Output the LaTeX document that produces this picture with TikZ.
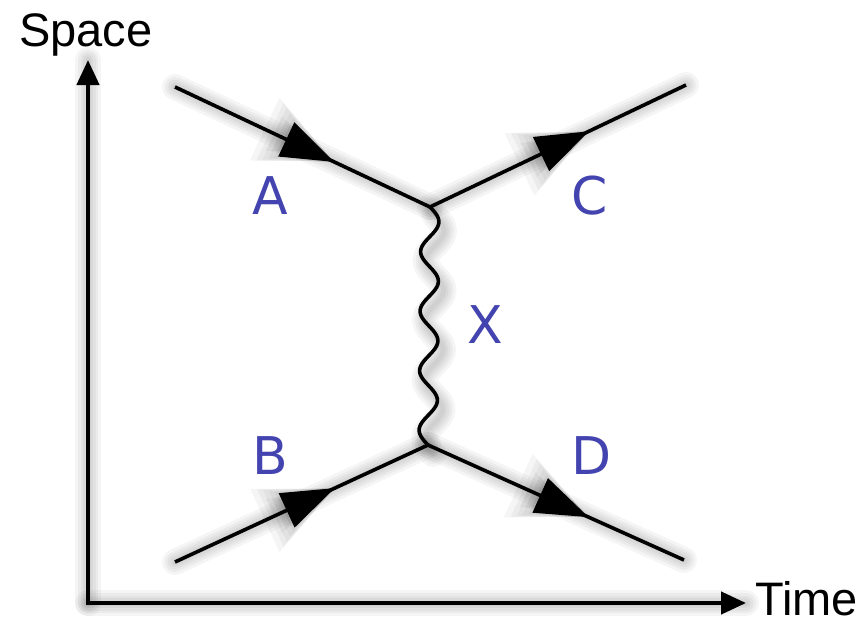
\documentclass[tikz,border=0pt]{standalone}
\usepackage{fontspec}
\setmainfont{Liberation Sans}
\newfontfamily\lblfont{DejaVu Sans}
\usetikzlibrary{arrows.meta,decorations.markings}
\definecolor{lbl}{RGB}{68,68,176}
\begin{document}
\begin{tikzpicture}[x=1pt,y=-1pt,
  fermion/.style={line width=3.6pt, postaction={decorate},
    decoration={markings, mark=at position 176pt with {\arrow{Triangle[length=53pt,width=37pt]}}}},
  shfermion/.style={line width=#1, draw=black, opacity=0.04, line cap=round, postaction={decorate},
    decoration={markings, mark=at position 178pt with {\arrow{Triangle[length=53pt+#1,width=37pt+#1]}}}},
  shline/.style={line width=#1, draw=black, opacity=0.04, line cap=round},
  axis/.style={line width=4.4pt, -{Triangle[length=25pt,width=22pt]}},
  plabel/.style={font=\lblfont\fontsize{52}{52}\selectfont, text=lbl, anchor=base, inner sep=0pt},
  alabel/.style={font=\fontsize{47}{47}\selectfont, anchor=base west, inner sep=0pt},
]
\useasboundingbox (0,0) rectangle (864,626);
% points
\coordinate (a0) at (175,87);
\coordinate (v1) at (430,207);
\coordinate (c1) at (686,85);
\coordinate (b0) at (175,562);
\coordinate (v2) at (428,445);
\coordinate (d1) at (684,560);
\coordinate (o) at (88,603);
\coordinate (ty) at (88,60);
\coordinate (tx) at (746,603);
% shadows
\begin{scope}[shift={(5,9)}]
  \foreach \w in {5pt,10pt,15pt,20pt,26pt}{
    \draw[shfermion=\w] (a0) -- (v1);
    \draw[shfermion=\w] (v1) -- (c1);
    \draw[shfermion=\w] (b0) -- (v2);
    \draw[shfermion=\w] (v2) -- (d1);
    \draw[shline=\w] (o) -- (ty);
    \draw[shline=\w] (o) -- (tx);
    \draw[shline=\w] plot[domain=0:238, samples=160, smooth] ({430 - 2*\x/238 + 9*sin(\x/59.5*360)}, {207+\x});
  }
\end{scope}
% axes
\draw[axis] (o) -- (ty);
\draw[axis] (o) -- (tx);
\draw[line width=4.4pt] (85.8,603) -- (o);
% fermion lines
\draw[fermion] (a0) -- (v1);
\draw[fermion] (v1) -- (c1);
\draw[fermion] (b0) -- (v2);
\draw[fermion] (v2) -- (d1);
% boson
\draw[line width=3.6pt] plot[domain=0:238, samples=160, smooth] ({430 - 2*\x/238 + 9*sin(\x/59.5*360)}, {207+\x});
% labels
\node[alabel] (space) at (19,47) {Space};
\node[alabel] (time) at (755,615) {Time};
\node[plabel] (A) at (270,214) {A};
\node[plabel] (C) at (590,214) {C};
\node[plabel] (X) at (485,343) {X};
\node[plabel] (B) at (270,474) {B};
\node[plabel] (D) at (592,474) {D};
\end{tikzpicture}
\end{document}
